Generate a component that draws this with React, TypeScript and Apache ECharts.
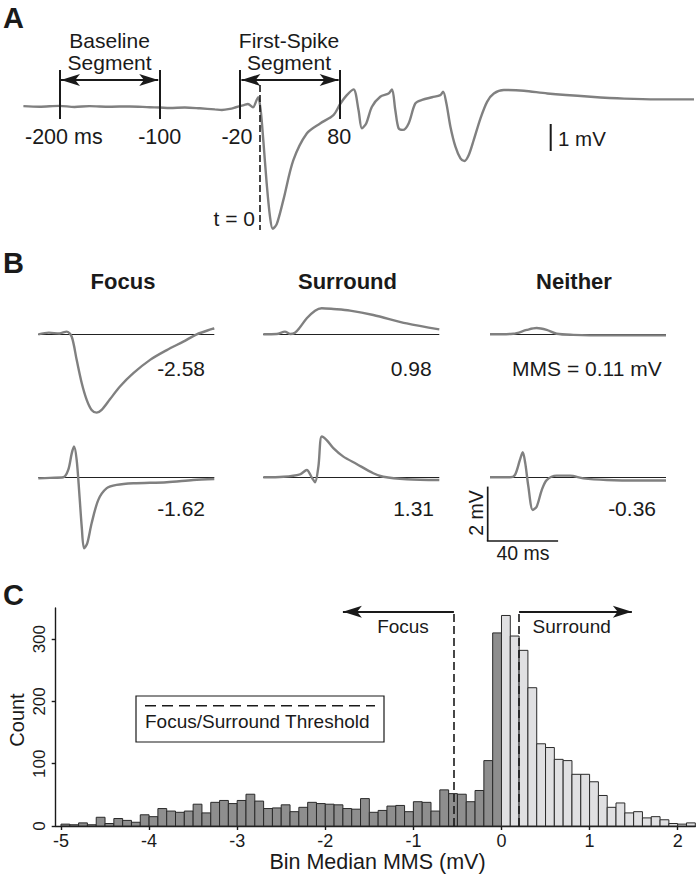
import React, { useEffect, useRef } from "react";
import * as echarts from "echarts";

const FONT = '"Liberation Sans", Arial, Helvetica, sans-serif';
const INK = "#1a1a1a";
const TRACE = "#808080";
const DARK_BAR = "#8e8e8e";
const LIGHT_BAR = "#e0e0e2";

// ---------------- Panel A: example sweep (ms, mV)
const traceAms = [-236, -220, -200, -185, -170, -150, -130, -110, -100, -90, -75, -60, -45, -38, -30, -24, -20, -16, -12, -7, -3.3, -1.7, 0.7, 3.3, 6.7, 10, 12.7, 16.7, 23.3, 33.3, 46.7, 60, 73.3, 80, 86, 93.3, 98.3, 101.7, 106, 111.7, 120, 128.3, 131.7, 135, 138.3, 142.7, 148.3, 155, 161.7, 171.7, 180, 182.7, 186, 190, 195, 200, 204, 208.3, 213.3, 220, 226.7, 233.3, 243.3, 263.3, 286.7, 330, 363.3, 396.7, 433];
const traceAmV = [0.02, 0, 0.03, -0.01, 0.02, 0, 0.01, -0.02, -0.03, -0.05, -0.03, -0.06, -0.1, -0.12, -0.08, -0.02, 0.02, 0.06, 0.1, -0.02, 0.25, 0.35, -0.12, -1.23, -2.84, -4.07, -4.52, -4.35, -3.46, -1.98, -0.99, -0.62, -0.31, 0.1, 0.4, 0.64, -0.12, -0.8, -0.62, 0, 0.37, 0.49, 0.64, -0.12, -0.8, -0.86, -0.62, 0.12, 0.25, 0.35, 0.43, 0.56, 0.12, -0.74, -1.48, -1.91, -2.01, -1.79, -1.23, -0.43, 0.19, 0.49, 0.62, 0.59, 0.49, 0.37, 0.3, 0.27, 0.27];
const segmentMarksMs = [-200, -100, -20, 80];
const segmentMarkLabels = ["-200 ms", "-100", "-20", "80"];
const baselineSegment = [-200, -100];
const firstSpikeSegment = [-20, 80];

// ---------------- Panel B: example first-spike segments (ms, mV)
const focusTopMs = [-20, -14, -8, -3.9, -1, 1.8, 4.7, 7.5, 10.3, 13.2, 16, 20.7, 26.4, 34, 43.5, 53, 62.4, 70, 80];
const focusTopMV = [0, 0.06, 0.03, 0.1, -0.09, -0.94, -1.8, -2.41, -2.78, -2.88, -2.78, -2.39, -1.92, -1.43, -0.94, -0.58, -0.27, 0, 0.22];
const surroundTopMs = [-20, -12.4, -7.7, -4.8, -2, 0.85, 4.7, 9.4, 13.2, 19.8, 29.3, 42.5, 61.5, 80];
const surroundTopMV = [0, 0.01, 0.1, 0.01, 0.06, 0.26, 0.59, 0.87, 0.96, 0.93, 0.87, 0.71, 0.4, 0.18];
const neitherTopMs = [-20, -6.8, 0.85, 6.5, 12.2, 17.9, 27.3, 46.3, 65.2, 80];
const neitherTopMV = [0, 0.02, 0.16, 0.23, 0.16, 0.02, -0.02, -0.04, -0.04, -0.04];
const focusBottomMs = [-20, -13.4, -5.8, -3, -1, 0.3, 1.8, 3.3, 4.7, 6, 7.8, 10.3, 14.1, 18.9, 24.5, 34, 53, 68, 80];
const focusBottomMV = [-0.04, -0.02, 0, 0.27, 0.88, 1.13, 0.64, -0.59, -1.84, -2.61, -2.43, -1.69, -0.83, -0.4, -0.28, -0.22, -0.18, -0.1, -0.06];
const surroundBottomMs = [-20, -8.6, 0.85, 4.7, 7.5, 9.4, 11.3, 13.2, 16, 19.8, 25.5, 33, 42.5, 48.2, 61.5, 80];
const surroundBottomMV = [0, 0.02, 0.11, 0.27, 0, -0.18, 0.39, 1.5, 1.37, 1.07, 0.76, 0.49, 0.15, 0.02, -0.07, -0.1];
const neitherBottomMs = [-20, -8.6, -5.8, -3, -1.4, 0.05, 1.8, 4.3, 6.5, 9.4, 12.2, 17.9, 25.5, 33, 46.3, 65.2, 80];
const neitherBottomMV = [0, 0, 0.09, 0.64, 0.92, 0.51, -0.34, -1.2, -1.08, -0.47, -0.1, 0.06, 0.06, -0.04, -0.1, -0.12, -0.12];
const panelBTitles = ["Focus", "Surround", "Neither"];
const panelBTopValues = ["-2.58", "0.98", "MMS = 0.11 mV"];
const panelBBottomValues = ["-1.62", "1.31", "-0.36"];

// ---------------- Panel C: histogram of bin median MMS
const binWidth = 0.1;
const focusSideFirstBin = -5.0;
const focusSideCounts = [3, 2, 5, 2, 14, 4, 12, 9, 6, 18, 15, 28, 24, 22, 24, 35, 21, 38, 41, 36, 41, 51, 40, 28, 29, 34, 23, 30, 38, 36, 35, 34, 28, 27, 44, 22, 25, 32, 33, 23, 39, 38, 24, 58, 52, 51, 39, 57, 105, 310];
const surroundSideFirstBin = 0.0;
const surroundSideCounts = [338, 305, 282, 222, 132, 126, 107, 105, 83, 83, 71, 49, 30, 37, 21, 23, 13, 15, 10, 4, 3, 5];
const focusThreshold = -0.54;
const surroundThreshold = 0.2;
const focusArrowTip = -1.8;
const surroundArrowTip = 1.48;
const xTicksC = [-5, -4, -3, -2, -1, 0, 1, 2];
const yTicksC = [0, 100, 200, 300];

// ---------------- layout
const GA = { left: 23.4, top: 52.7, width: 670.6, height: 189, xMin: -236, xMax: 433, yMin: -5, yMax: 2 };
const axPx = (t: number) => GA.left + ((t - GA.xMin) / (GA.xMax - GA.xMin)) * GA.width;
const B_LEFTS = [38.3, 263.3, 490];
const B_W = 176;
const B_ROWS = [
  { top: 293.5, height: 136, min: -3.5, max: 1.5 },
  { top: 436.5, height: 122.4, min: -3, max: 1.5 },
];
const GC = { left: 55.7, top: 608, width: 639.6, height: 218, xMin: -5.06, xMax: 2.2, yMin: 0, yMax: 350 };
const ARROW_W = 9;
const ARROW_H = 19;

const zip = (a: number[], b: number[]) => a.map((x, i) => [x, b[i]]);
const binsFrom = (start: number, counts: number[]) =>
  counts.map((c, i) => [Number((start + i * binWidth).toFixed(2)), c]);

const txt = (
  text: string,
  x: number,
  y: number,
  size: number,
  align: string = "center",
  weight: string = "normal",
  rotation = 0
) => ({
  type: "text",
  x,
  y,
  rotation,
  silent: true,
  style: { text, fill: INK, fontSize: size, fontFamily: FONT, fontWeight: weight, align, verticalAlign: "middle" },
});
const seg = (x1: number, y1: number, x2: number, y2: number, w = 2, dash?: number[]) => ({
  type: "line",
  silent: true,
  shape: { x1, y1, x2, y2 },
  style: { stroke: INK, lineWidth: w, lineDash: dash },
});

export default function App() {
  const ref = useRef<HTMLDivElement>(null);
  useEffect(() => {
    document.body.style.margin = "0";
    if (!ref.current) return;
    const chart = echarts.init(ref.current, undefined, { renderer: "svg" });

    const grids: any[] = [];
    const xAxes: any[] = [];
    const yAxes: any[] = [];
    // A
    grids.push({ left: GA.left, top: GA.top, width: GA.width, height: GA.height });
    xAxes.push({ gridIndex: 0, type: "value", min: GA.xMin, max: GA.xMax, show: false });
    yAxes.push({ gridIndex: 0, type: "value", min: GA.yMin, max: GA.yMax, show: false });
    // B
    B_ROWS.forEach((r) => {
      B_LEFTS.forEach((l) => {
        const gi = grids.length;
        grids.push({ left: l, top: r.top, width: B_W, height: r.height });
        xAxes.push({ gridIndex: gi, type: "value", min: -20, max: 80, show: false });
        yAxes.push({ gridIndex: gi, type: "value", min: r.min, max: r.max, show: false });
      });
    });
    // C
    const axisLine = { show: true, onZero: false, lineStyle: { color: INK, width: 1.4 } };
    grids.push({ left: GC.left, top: GC.top, width: GC.width, height: GC.height });
    xAxes.push({
      gridIndex: 7,
      type: "value",
      min: GC.xMin,
      max: GC.xMax,
      axisLine,
      axisTick: { show: true, customValues: xTicksC, length: 4, lineStyle: { color: INK, width: 1.4 } },
      axisLabel: { customValues: xTicksC, fontSize: 18, color: INK, fontFamily: FONT, margin: 6 },
      splitLine: { show: false },
    });
    yAxes.push({
      gridIndex: 7,
      type: "value",
      min: GC.yMin,
      max: GC.yMax,
      axisLine,
      axisTick: { show: true, customValues: yTicksC, length: 4, lineStyle: { color: INK, width: 1.4 } },
      axisLabel: { customValues: yTicksC, fontSize: 17, color: INK, fontFamily: FONT, rotate: 90, margin: 8 },
      splitLine: { show: false },
    });

    const traceSeries = (xi: number, ms: number[], mv: number[], zeroLine: boolean) => ({
      type: "line",
      xAxisIndex: xi,
      yAxisIndex: xi,
      data: zip(ms, mv),
      showSymbol: false,
      smooth: 0.3,
      clip: false,
      z: 3,
      lineStyle: { color: TRACE, width: 2.4 },
      markLine: zeroLine
        ? {
            silent: true,
            symbol: ["none", "none"],
            label: { show: false },
            lineStyle: { color: "#222", width: 1, type: "solid" },
            data: [{ yAxis: 0 }],
            z: 2,
          }
        : undefined,
    });

    const markSeries = (xi: number, ml: any) => ({
      type: "line",
      xAxisIndex: xi,
      yAxisIndex: xi,
      data: [],
      z: 5,
      markLine: { silent: true, label: { show: false }, ...ml },
    });

    const barSeries = (data: number[][], fill: string) => ({
      type: "custom",
      xAxisIndex: 7,
      yAxisIndex: 7,
      encode: { x: 0, y: 1 },
      data,
      z: 2,
      renderItem: (_p: any, api: any) => {
        const x0 = api.value(0);
        const c = api.value(1);
        const p0 = api.coord([x0, c]);
        const p1 = api.coord([x0 + binWidth, 0]);
        return {
          type: "rect",
          shape: { x: p0[0], y: p0[1], width: p1[0] - p0[0], height: p1[1] - p0[1] },
          style: { fill, stroke: "#2a2a2a", lineWidth: 1 },
        };
      },
    });

    const arrowY = 344;
    const series: any[] = [
      traceSeries(0, traceAms, traceAmV, false),
      markSeries(0, {
        symbol: ["none", "none"],
        lineStyle: { color: INK, width: 2, type: "solid" },
        data: segmentMarksMs.map((t) => [{ coord: [t, 1.36] }, { coord: [t, -0.46] }]),
      }),
      markSeries(0, {
        symbol: ["arrow", "arrow"],
        symbolSize: [ARROW_W, ARROW_H],
        lineStyle: { color: INK, width: 2, type: "solid" },
        data: [baselineSegment, firstSpikeSegment].map((s) => [
          { coord: [s[0] + 1.5, 0.99] },
          { coord: [s[1] - 1.5, 0.99] },
        ]),
      }),
      markSeries(0, {
        symbol: ["none", "none"],
        lineStyle: { color: INK, width: 1.6, type: [7, 3] },
        data: [[{ coord: [0, 0.8] }, { coord: [0, -4.57] }]],
      }),
      traceSeries(1, focusTopMs, focusTopMV, true),
      traceSeries(2, surroundTopMs, surroundTopMV, true),
      traceSeries(3, neitherTopMs, neitherTopMV, true),
      traceSeries(4, focusBottomMs, focusBottomMV, true),
      traceSeries(5, surroundBottomMs, surroundBottomMV, true),
      traceSeries(6, neitherBottomMs, neitherBottomMV, true),
      barSeries(binsFrom(focusSideFirstBin, focusSideCounts), DARK_BAR),
      barSeries(binsFrom(surroundSideFirstBin, surroundSideCounts), LIGHT_BAR),
      markSeries(7, {
        symbol: ["none", "none"],
        lineStyle: { color: INK, width: 1.6, type: [8, 4] },
        data: [focusThreshold, surroundThreshold].map((t) => [{ coord: [t, 0] }, { coord: [t, arrowY] }]),
      }),
      markSeries(7, {
        symbol: ["none", "arrow"],
        symbolSize: [ARROW_W, ARROW_H],
        lineStyle: { color: INK, width: 2, type: "solid" },
        data: [
          [{ coord: [focusThreshold, arrowY] }, { coord: [focusArrowTip, arrowY] }],
          [{ coord: [surroundThreshold, arrowY] }, { coord: [surroundArrowTip, arrowY] }],
        ],
      }),
    ];

    // Scale bars (computed from the axes' scales)
    const aMvPx = GA.height / (GA.yMax - GA.yMin);
    const bMsPx = B_W / 100;
    const bMvPx = B_ROWS[1].height / (B_ROWS[1].max - B_ROWS[1].min);
    const sbX = 487.7;
    const sbY = 541;

    const bx = (axPx(baselineSegment[0]) + axPx(baselineSegment[1])) / 2;
    const fx = (axPx(firstSpikeSegment[0]) + axPx(firstSpikeSegment[1])) / 2 - 1;

    const graphic: any[] = [
      txt("A", 3, 17.5, 29, "left", "bold"),
      txt("B", 3, 263.3, 29, "left", "bold"),
      txt("C", 3, 595, 29, "left", "bold"),
      // A annotations
      txt("Baseline", bx, 40.5, 21),
      txt("Segment", bx, 62.5, 21),
      txt("First-Spike", fx, 40.5, 21),
      txt("Segment", fx, 62.5, 21),
      txt(segmentMarkLabels[0], 25, 137, 21.5, "left"),
      txt(segmentMarkLabels[1], axPx(segmentMarksMs[1]), 137, 21.5),
      txt(segmentMarkLabels[2], axPx(segmentMarksMs[2]) - 3, 137, 21.5),
      txt(segmentMarkLabels[3], axPx(segmentMarksMs[3]) - 1, 137, 21.5),
      txt("t = 0", axPx(0) - 5, 218, 21, "right"),
      seg(550.7, 124, 550.7, 124 + aMvPx, 2),
      txt("1 mV", 558, 138, 20.5, "left"),
      // B annotations
      txt(panelBTitles[0], 123, 281, 22, "center", "bold"),
      txt(panelBTitles[1], 347.5, 281, 22, "center", "bold"),
      txt(panelBTitles[2], 574, 281, 22, "center", "bold"),
      txt(panelBTopValues[0], 205, 368, 21, "right"),
      txt(panelBTopValues[1], 431.7, 368, 21, "right"),
      txt(panelBTopValues[2], 661.7, 368, 21, "right"),
      txt(panelBBottomValues[0], 205, 508, 21, "right"),
      txt(panelBBottomValues[1], 434, 508, 21, "right"),
      txt(panelBBottomValues[2], 656, 508, 21, "right"),
      seg(sbX, sbY, sbX, sbY - 2 * bMvPx, 1.7),
      seg(sbX - 0.85, sbY, sbX + 40 * bMsPx, sbY, 1.7),
      txt("2 mV", 476, 513, 19.5, "center", "normal", Math.PI / 2),
      txt("40 ms", 523, 553, 19.5),
      // C annotations
      txt("Focus", 403, 626.7, 19),
      txt("Surround", 571.7, 626.7, 19),
      {
        type: "rect",
        silent: true,
        shape: { x: 136, y: 696, width: 248, height: 46 },
        style: { fill: "#fff", stroke: INK, lineWidth: 1.2 },
      },
      seg(145, 705.7, 375, 705.7, 1.6, [11, 6]),
      txt("Focus/Surround Threshold", 145, 721, 19, "left"),
      txt("Count", 16.7, 720, 20, "center", "normal", Math.PI / 2),
      txt("Bin Median MMS (mV)", 377.5, 861.5, 21.5),
    ];

    chart.setOption({
      animation: false,
      textStyle: { fontFamily: FONT },
      grid: grids,
      xAxis: xAxes,
      yAxis: yAxes,
      series,
      graphic,
    });
    return () => chart.dispose();
  }, []);
  return <div ref={ref} style={{ width: 698, height: 876, position: "absolute", left: 0, top: 0 }} />;
}
